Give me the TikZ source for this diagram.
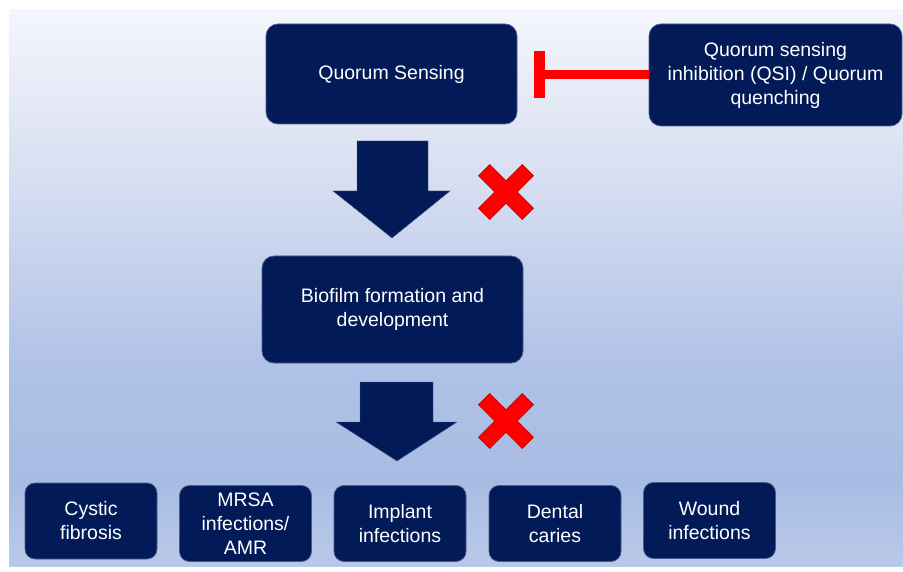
\documentclass[tikz,border=0pt]{standalone}
\usepackage{fontspec}
\setmainfont{Liberation Sans}
\usepackage{tikz}
\definecolor{navy}{HTML}{021B58}
\definecolor{navyedge}{HTML}{4A5A8C}
\definecolor{stopred}{HTML}{FF0000}
\definecolor{paneltop}{HTML}{F3F6FC}
\definecolor{panelA}{HTML}{E0E5F4}
\definecolor{panelB}{HTML}{C8D4ED}
\definecolor{panelC}{HTML}{AFC1E6}
\definecolor{panelD}{HTML}{A8BCE3}
\definecolor{panelbot}{HTML}{B9C9E8}
\pgfdeclareverticalshading{panelshade}{100bp}{%
  color(0bp)=(panelbot); color(25bp)=(panelbot); color(32.7bp)=(panelD);
  color(42.6bp)=(panelC); color(53.4bp)=(panelB); color(64.2bp)=(panelA);
  color(75bp)=(paneltop); color(100bp)=(paneltop)}
\tikzset{
  box/.style={fill=navy,draw=navyedge,line width=0.7pt,rounded corners=12pt,
    text=white,align=center,inner sep=2pt,
    font=\fontsize{19.5}{24}\selectfont},
  smallbox/.style={box,rounded corners=10pt,minimum width=132pt,minimum height=76pt},
  blockarrow/.style={fill=navy,draw=navyedge,line width=0.4pt},
  inhibit/.style={draw=stopred,line width=9pt},
  redx/.style={fill=stopred,draw=stopred!70!black,line width=0.5pt}
}

\begin{document}
\begin{tikzpicture}[x=1pt,y=-1pt]
  \useasboundingbox (0,0) rectangle (903,572);
  \fill[white] (0,0) rectangle (903,572);
  \shade[shading=panelshade] (9,10) rectangle (903,566);

  % main boxes
  \node[box,minimum width=251pt,minimum height=100pt] (qs) at (391.5,74) {Quorum Sensing};
  \node[box,minimum width=253pt,minimum height=102pt] (qsi) at (775.5,75)
    {Quorum sensing\\inhibition (QSI) / Quorum\\quenching};
  \node[box,minimum width=261pt,minimum height=107pt] (bio) at (392.5,309.5)
    {Biofilm formation and\\development};

  % diseases
  \node[smallbox] (cf) at (91,521) {Cystic\\fibrosis};
  \node[smallbox] (mrsa) at (245.5,523.5) {MRSA\\infections/\\AMR};
  \node[smallbox] (impl) at (400,523.5) {Implant\\infections};
  \node[smallbox] (dent) at (555,523.5) {Dental\\caries};
  \node[smallbox] (wnd) at (709.5,520.5) {Wound\\infections};

  % inhibition bar
  \coordinate (bar) at (539.5,75);
  \draw[inhibit] (qsi.west) -- (bar);
  \draw[stopred,line width=11pt] ([yshift=-23.5pt]bar) -- ([yshift=23.5pt]bar);

  % block arrows
  \draw[blockarrow] (357,141) -- (428,141) -- (428,191) -- (450,191) -- (392,238)
    -- (333,191) -- (357,191) -- cycle;
  \draw[blockarrow] (360,382) -- (433,382) -- (433,422) -- (457,422) -- (397,461)
    -- (336,422) -- (360,422) -- cycle;

  % red crosses
  \foreach \cx/\cy in {506/192, 506/421}{
    \begin{scope}[shift={(\cx,\cy)},rotate=45]
      \draw[redx] (8,31) -- (8,8) -- (31,8) -- (31,-8) -- (8,-8) -- (8,-31)
        -- (-8,-31) -- (-8,-8) -- (-31,-8) -- (-31,8) -- (-8,8) -- (-8,31) -- cycle;
    \end{scope}
  }
\end{tikzpicture}
\end{document}
